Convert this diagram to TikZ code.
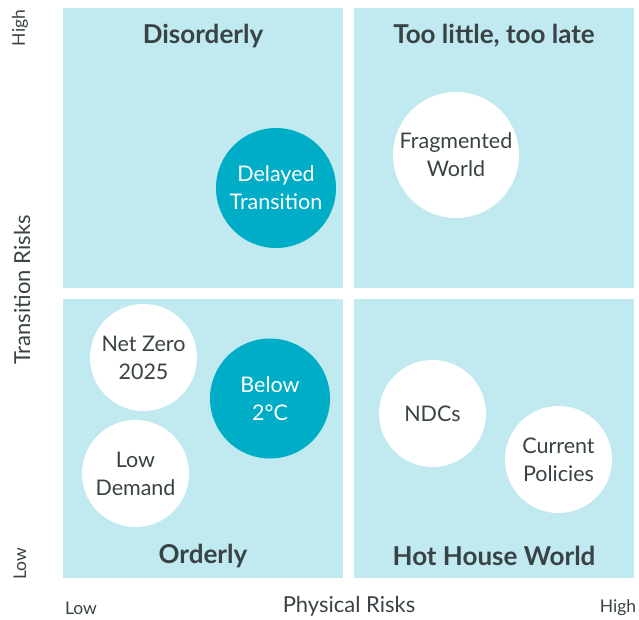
\documentclass[tikz,border=0pt]{standalone}
\usepackage{fontspec}
\setmainfont{Lato}
\definecolor{panel}{HTML}{C0EAF0}
\definecolor{teal}{HTML}{00ADC6}
\definecolor{ink}{HTML}{394244}
\begin{document}
\begin{tikzpicture}[x=1pt,y=-1pt,
  panelbox/.style={fill=panel,draw=none},
  heading/.style={font=\fontsize{26}{26}\selectfont\bfseries,text=ink},
  scen/.style={circle,draw=none,inner sep=0pt,align=center,
    font=\fontsize{21.5}{28}\selectfont},
  lightscen/.style={scen,fill=white,text=ink},
  darkscen/.style={scen,fill=teal,text=white},
  axis/.style={font=\fontsize{22}{22}\selectfont,text=ink},
  tick/.style={font=\fontsize{17.5}{17.5}\selectfont,text=ink}]
\useasboundingbox (0,0) rectangle (639,619);
% quadrants
\fill[panelbox] (63,8) rectangle (343,288);
\fill[panelbox] (354,8) rectangle (634,288);
\fill[panelbox] (63,299) rectangle (343,578);
\fill[panelbox] (354,299) rectangle (634,578);
% quadrant titles
\node[heading] (tl) at (203,36) {Disorderly};
\node[heading] (tr) at (494,36) {Too little, too late};
\node[heading] (bl) at (203,556) {Orderly};
\node[heading] (br) at (494,556) {Hot House World};
% scenarios
\node[darkscen,minimum size=120pt] (delayed) at (276,188) {Delayed\\Transition};
\node[lightscen,minimum size=126pt] (frag) at (456,155) {Fragmented\\World};
\node[lightscen,minimum size=107pt] (netzero) at (143.5,357.5) {Net Zero\\2025};
\node[darkscen,minimum size=120pt] (below) at (270,398.5) {Below\\2°C};
\node[lightscen,minimum size=107pt] (lowdem) at (135.5,473.5) {Low\\Demand};
\node[lightscen,minimum size=107pt] (ndc) at (432.5,413.5) {NDCs};
\node[lightscen,minimum size=107pt] (curpol) at (558.5,459.5) {Current\\Policies};
% axes
\node[axis,rotate=90] (yaxis) at (22,290) {Transition Risks};
\node[tick,rotate=90] (yhigh) at (20,28) {High};
\node[tick,rotate=90] (ylow) at (20,564) {Low};
\node[axis] (xaxis) at (349,606) {Physical Risks};
\node[tick] (xlow) at (81,608) {Low};
\node[tick] (xhigh) at (618,608) {High};
\end{tikzpicture}
\end{document}
